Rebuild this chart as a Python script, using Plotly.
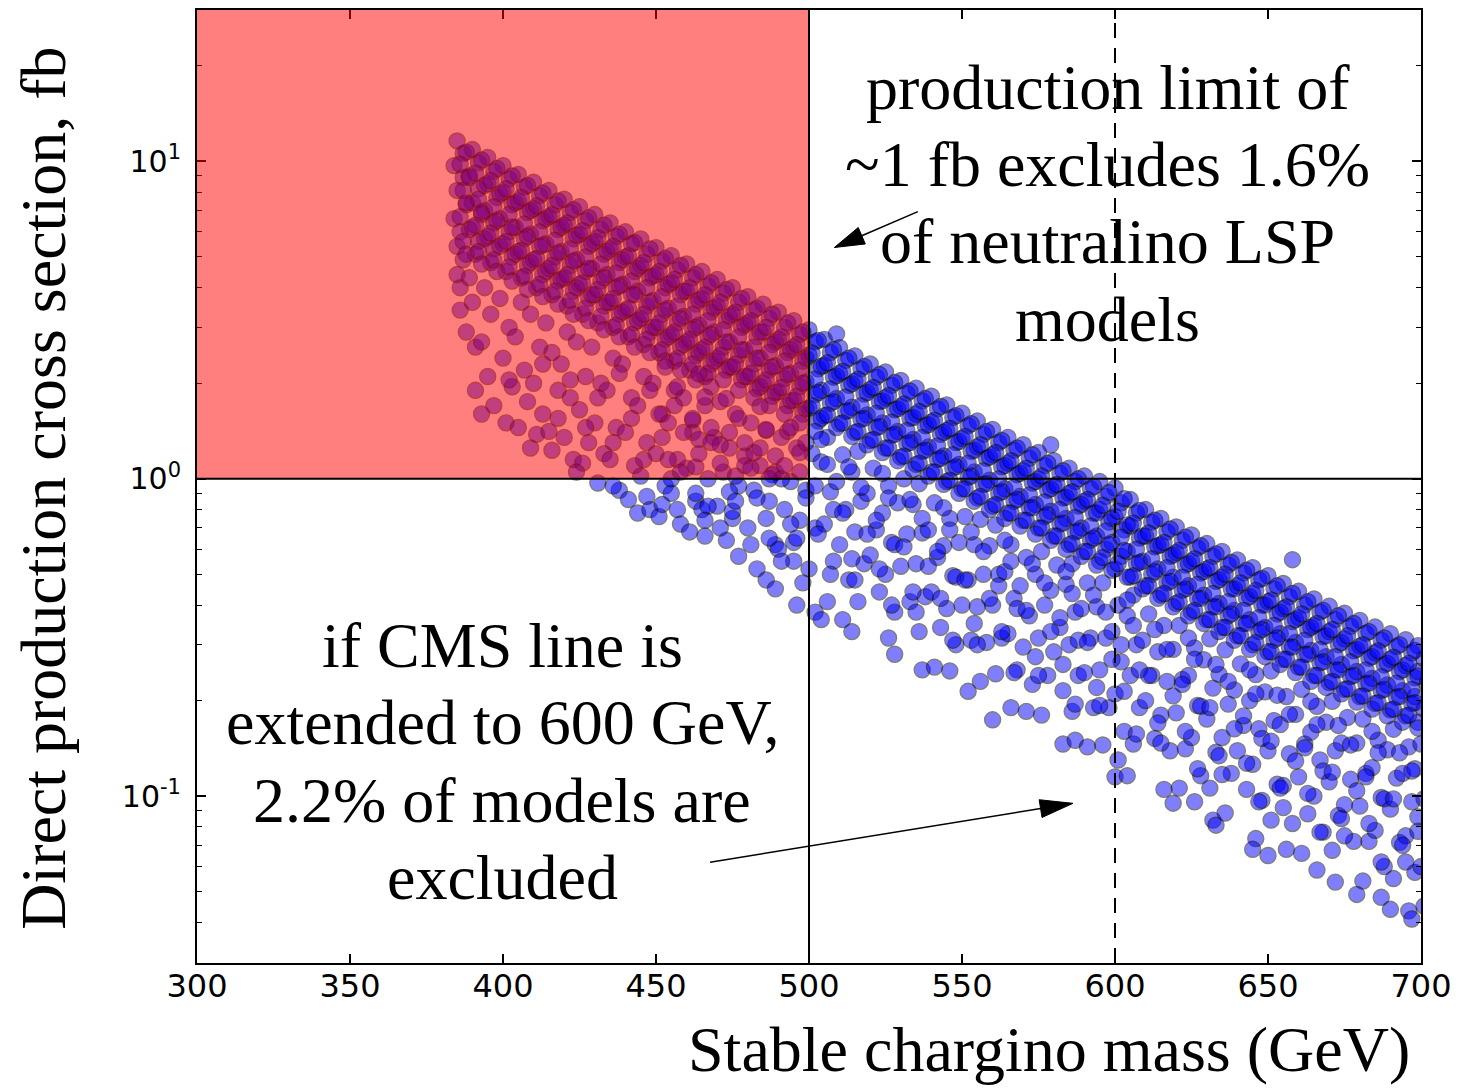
import math
import plotly.graph_objects as go

# Stable chargino mass (GeV) and direct production cross section (fb) for the
# neutralino-LSP model scan, split into mass bands.
mass_a = [
    385, 387, 384, 387, 385, 388, 384, 386, 385, 387, 385, 386, 386, 388,
    390, 392, 389, 392, 390, 393, 390, 392, 391, 389, 390, 391, 391, 393,
    395, 397, 395, 398, 394, 397, 395, 397, 396, 394, 396, 393, 395, 397,
    400, 402, 400, 403, 399, 402, 400, 403, 401, 399, 402, 400, 403, 401,
    405, 407, 405, 408, 404, 407, 405, 408, 406, 406, 404, 407, 405, 409,
    410, 412, 410, 413, 409, 412, 410, 413, 411, 409, 412, 410, 413, 411,
    415, 417, 415, 418, 414, 417, 415, 418, 416, 414, 416, 418, 415, 416,
    420, 422, 420, 423, 419, 422, 420, 423, 421, 421, 419, 422, 420, 423,
    425, 427, 425, 428, 424, 427, 425, 428, 426, 424, 427, 425, 428, 426, 424,
    430, 432, 430, 433, 429, 432, 430, 433, 431, 429, 432, 430, 433, 431,
    435, 437, 435, 438, 434, 437, 435, 438, 436, 436, 434, 437, 435, 438,
    440, 442, 440, 443, 439, 442, 440, 443, 441, 439, 442, 440, 443, 441, 444,
    445, 447, 445, 448, 444, 447, 445, 448, 446, 446, 444, 447, 445, 448,
]
xsec_a = [
    11.6, 10.6, 9.7, 8.9, 8.1, 7.3, 6.6, 6.0, 5.4, 4.9, 4.4, 4.0, 3.4, 2.9,
    10.9, 9.9, 9.0, 8.2, 7.4, 6.8, 6.2, 5.6, 5.1, 4.3, 3.6, 2.6, 1.9, 1.6,
    10.3, 9.3, 8.5, 7.7, 7.0, 6.4, 5.8, 5.3, 4.8, 4.0, 3.3, 2.7, 2.1, 1.7,
    9.7, 8.8, 8.0, 7.3, 6.6, 6.0, 5.5, 5.0, 4.5, 3.7, 3.0, 2.4, 1.95, 1.5,
    9.1, 8.3, 7.5, 6.9, 6.2, 5.7, 5.2, 4.7, 4.3, 3.6, 2.8, 2.2, 1.45, 1.25,
    8.6, 7.8, 7.1, 6.5, 5.9, 5.4, 4.9, 4.4, 4.0, 3.3, 2.6, 2.0, 1.6, 1.38,
    8.1, 7.3, 6.7, 6.1, 5.5, 5.0, 4.6, 4.2, 3.8, 3.1, 2.5, 1.9, 1.41, 1.23,
    7.6, 6.9, 6.3, 5.7, 5.2, 4.7, 4.3, 3.9, 3.5, 2.9, 2.3, 1.8, 1.35, 1.15,
    7.2, 6.5, 5.9, 5.4, 4.9, 4.5, 4.1, 3.7, 3.3, 2.7, 2.1, 1.65, 1.3, 1.12, 1.05,
    6.8, 6.1, 5.6, 5.1, 4.6, 4.2, 3.8, 3.5, 3.1, 2.6, 2.0, 1.5, 1.2, 0.97,
    6.4, 5.8, 5.3, 4.8, 4.4, 4.0, 3.6, 3.3, 3.0, 2.4, 1.9, 1.45, 1.15, 0.92,
    6.0, 5.5, 5.0, 4.5, 4.1, 3.8, 3.4, 3.1, 2.8, 2.3, 1.8, 1.4, 1.1, 0.86, 0.78,
    5.7, 5.1, 4.7, 4.3, 3.9, 3.5, 3.2, 2.9, 2.65, 2.1, 1.7, 1.3, 1.02, 0.80,
]

mass_b = [
    450, 452, 450, 453, 449, 452, 450, 453, 451, 449, 452, 450, 453, 451,
    455, 457, 455, 458, 454, 457, 455, 458, 456, 456, 454, 457, 455, 458,
    460, 462, 460, 463, 459, 462, 460, 463, 461, 459, 462, 460, 463, 461,
    465, 467, 465, 468, 464, 467, 465, 468, 466, 466, 464, 467, 465, 466,
    470, 472, 470, 473, 469, 472, 470, 473, 471, 469, 472, 470, 473,
    475, 477, 475, 478, 474, 477, 475, 478, 476, 474, 477, 475, 477,
    480, 482, 480, 483, 479, 482, 480, 483, 481, 479, 482, 480, 483,
    485, 487, 485, 488, 484, 487, 485, 488, 486, 484, 487, 489, 486,
    490, 492, 490, 493, 489, 492, 490, 493, 491, 489, 492, 490, 489,
    495, 497, 495, 498, 494, 497, 495, 498, 496, 494, 497, 495, 496,
    500, 502, 500, 503, 499, 502, 500, 503, 501, 499, 502, 500, 502,
]
xsec_b = [
    5.35, 4.85, 4.4, 4.0, 3.65, 3.3, 3.0, 2.75, 2.5, 2.0, 1.6, 1.2, 0.95, 0.76,
    5.05, 4.55, 4.15, 3.8, 3.45, 3.1, 2.85, 2.6, 2.35, 1.9, 1.5, 1.15, 0.9, 0.72,
    4.75, 4.3, 3.9, 3.55, 3.25, 2.95, 2.7, 2.45, 2.2, 1.8, 1.4, 1.08, 0.85, 0.68,
    4.5, 4.05, 3.7, 3.35, 3.05, 2.8, 2.55, 2.3, 2.1, 1.7, 1.33, 1.0, 0.8, 0.66,
    4.25, 3.85, 3.5, 3.15, 2.9, 2.6, 2.4, 2.2, 1.75, 1.35, 1.05, 0.82, 0.64,
    4.0, 3.6, 3.3, 3.0, 2.7, 2.45, 2.25, 2.05, 1.6, 1.25, 0.95, 0.75, 0.57,
    3.75, 3.4, 3.1, 2.8, 2.55, 2.3, 2.1, 1.92, 1.5, 1.18, 0.92, 0.7, 0.52,
    3.55, 3.2, 2.9, 2.65, 2.4, 2.2, 2.0, 1.82, 1.42, 1.1, 0.85, 0.62, 0.48,
    3.35, 3.0, 2.75, 2.5, 2.27, 2.07, 1.88, 1.7, 1.35, 1.05, 0.8, 0.6, 0.45,
    3.15, 2.85, 2.6, 2.35, 2.15, 1.95, 1.77, 1.6, 1.25, 0.98, 0.74, 0.55, 0.40,
    2.95, 2.7, 2.45, 2.22, 2.02, 1.84, 1.67, 1.52, 1.2, 0.92, 0.7, 0.52, 0.38,
]

mass_c = [
    505, 507, 505, 508, 504, 507, 505, 506, 504, 507, 505, 508, 506, 504, 509,
    510, 512, 510, 513, 509, 512, 510, 511, 509, 512, 510, 513, 511,
    515, 517, 515, 518, 514, 517, 515, 516, 514, 517, 515, 518, 516, 514,
    520, 522, 520, 523, 519, 522, 520, 521, 519, 522, 520, 523,
    525, 527, 525, 528, 524, 527, 525, 526, 524, 527, 525, 528, 526,
    530, 532, 530, 533, 529, 532, 530, 531, 529, 532, 530, 533, 528,
    535, 537, 535, 538, 534, 537, 535, 536, 534, 537, 535, 538, 536, 537,
    540, 542, 540, 543, 539, 542, 540, 541, 539, 542, 540, 543, 541,
    545, 547, 545, 548, 544, 547, 545, 546, 544, 547, 545, 548, 546,
    550, 552, 550, 553, 549, 552, 550, 551, 549, 552, 550, 553, 552,
]
xsec_c = [
    2.75, 2.50, 2.28, 2.09, 1.90, 1.73, 1.58, 1.35, 1.13, 0.91, 0.72, 0.55, 0.41, 0.36, 2.86,
    2.59, 2.36, 2.15, 1.97, 1.79, 1.63, 1.49, 1.19, 0.98, 0.80, 0.62, 0.48, 0.36,
    2.44, 2.22, 2.03, 1.85, 1.68, 1.54, 1.40, 1.22, 1.05, 0.85, 0.68, 0.54, 0.41, 0.33,
    2.30, 2.09, 1.91, 1.75, 1.59, 1.45, 1.32, 1.08, 0.90, 0.69, 0.575, 0.44,
    2.17, 1.97, 1.80, 1.65, 1.50, 1.37, 1.25, 0.95, 0.78, 0.63, 0.50, 0.38, 0.315,
    2.04, 1.86, 1.69, 1.55, 1.41, 1.29, 1.17, 1.00, 0.84, 0.67, 0.53, 0.41, 0.28,
    1.93, 1.76, 1.60, 1.47, 1.33, 1.22, 1.11, 0.965, 0.83, 0.675, 0.54, 0.425, 0.33, 0.25,
    1.82, 1.66, 1.51, 1.38, 1.26, 1.15, 1.05, 0.84, 0.69, 0.565, 0.44, 0.34, 0.255,
    1.71, 1.56, 1.42, 1.30, 1.18, 1.08, 0.98, 0.75, 0.615, 0.495, 0.39, 0.30, 0.248,
    1.61, 1.47, 1.34, 1.22, 1.11, 1.01, 0.93, 0.76, 0.63, 0.48, 0.40, 0.31, 0.214,
]

mass_d = [
    555, 557, 555, 558, 554, 557, 555, 556, 554, 557, 555, 558, 556,
    560, 562, 560, 563, 559, 562, 560, 561, 559, 562, 560, 563, 561, 560,
    565, 567, 565, 568, 564, 567, 565, 566, 564, 567, 565, 568, 566,
    570, 572, 570, 573, 569, 572, 570, 571, 569, 572, 570, 573, 571,
    575, 577, 575, 578, 574, 577, 575, 576, 574, 577, 575, 578, 576, 579,
    580, 582, 580, 583, 579, 582, 580, 581, 579, 582, 580, 583, 583,
    585, 587, 585, 588, 584, 587, 585, 586, 584, 587, 585, 588, 586, 587,
    590, 592, 590, 593, 589, 592, 590, 591, 589, 592, 590, 593, 591,
    595, 597, 595, 598, 594, 597, 595, 596, 594, 597, 595, 598, 596,
    600, 602, 600, 603, 599, 602, 600, 601, 599, 602, 600, 603, 601, 600,
]
xsec_d = [
    1.52, 1.38, 1.26, 1.16, 1.05, 0.96, 0.87, 0.745, 0.62, 0.50, 0.395, 0.305, 0.23,
    1.43, 1.30, 1.19, 1.09, 0.99, 0.90, 0.82, 0.715, 0.615, 0.50, 0.40, 0.315, 0.243, 0.174,
    1.35, 1.23, 1.12, 1.03, 0.93, 0.85, 0.78, 0.62, 0.51, 0.42, 0.325, 0.25, 0.19,
    1.28, 1.16, 1.06, 0.97, 0.88, 0.81, 0.74, 0.565, 0.46, 0.37, 0.295, 0.225, 0.185,
    1.21, 1.10, 1.00, 0.92, 0.83, 0.76, 0.70, 0.59, 0.50, 0.40, 0.315, 0.24, 0.18, 1.28,
    1.14, 1.04, 0.95, 0.87, 0.79, 0.72, 0.66, 0.535, 0.445, 0.34, 0.285, 0.215, 0.146,
    1.08, 0.98, 0.90, 0.82, 0.75, 0.68, 0.62, 0.54, 0.465, 0.38, 0.30, 0.24, 0.185, 0.15,
    1.02, 0.93, 0.85, 0.78, 0.70, 0.64, 0.59, 0.47, 0.39, 0.315, 0.245, 0.19, 0.143,
    0.98, 0.88, 0.80, 0.73, 0.66, 0.60, 0.55, 0.47, 0.395, 0.315, 0.25, 0.19, 0.145,
    0.935, 0.84, 0.76, 0.69, 0.63, 0.57, 0.52, 0.40, 0.33, 0.265, 0.21, 0.16, 0.13, 0.115,
]

mass_e = [
    605, 607, 605, 608, 604, 607, 605, 606, 604, 607, 605, 608, 606, 604,
    610, 612, 610, 613, 609, 612, 610, 611, 609, 612, 610, 613,
    615, 617, 615, 618, 614, 617, 615, 616, 614, 617, 615, 618, 616,
    620, 622, 620, 623, 619, 622, 620, 621, 619, 622, 620, 623, 621, 619,
    625, 627, 625, 628, 624, 627, 625, 626, 624, 627, 625, 628, 626,
    630, 632, 630, 633, 629, 632, 630, 631, 629, 632, 630, 633, 631, 632,
    635, 637, 635, 638, 634, 637, 635, 636, 634, 637, 635, 638, 636, 633,
    640, 642, 640, 643, 639, 642, 640, 641, 639, 642, 640, 643,
    645, 647, 645, 648, 644, 647, 645, 646, 644, 647, 645, 648, 646, 645,
    650, 652, 650, 653, 649, 652, 650, 651, 649, 652, 650, 653, 651, 650,
]
xsec_e = [
    0.86, 0.78, 0.71, 0.65, 0.59, 0.54, 0.49, 0.43, 0.37, 0.30, 0.24, 0.19, 0.146, 0.116,
    0.80, 0.73, 0.66, 0.61, 0.55, 0.50, 0.46, 0.375, 0.31, 0.24, 0.20, 0.152,
    0.75, 0.68, 0.62, 0.57, 0.52, 0.47, 0.43, 0.345, 0.285, 0.23, 0.18, 0.139, 0.105,
    0.705, 0.64, 0.585, 0.535, 0.49, 0.445, 0.405, 0.345, 0.29, 0.233, 0.183, 0.141, 0.106, 0.095,
    0.665, 0.605, 0.55, 0.505, 0.46, 0.42, 0.38, 0.293, 0.24, 0.193, 0.153, 0.116, 0.096,
    0.625, 0.57, 0.52, 0.475, 0.43, 0.395, 0.36, 0.313, 0.269, 0.219, 0.175, 0.1375, 0.106, 0.084,
    0.59, 0.535, 0.49, 0.45, 0.405, 0.37, 0.34, 0.289, 0.242, 0.195, 0.153, 0.118, 0.0885, 0.081,
    0.555, 0.505, 0.46, 0.42, 0.385, 0.35, 0.32, 0.261, 0.216, 0.167, 0.139, 0.105,
    0.525, 0.48, 0.435, 0.40, 0.36, 0.33, 0.30, 0.2415, 0.2, 0.163, 0.126, 0.097, 0.0735, 0.068,
    0.495, 0.45, 0.41, 0.375, 0.34, 0.31, 0.285, 0.248, 0.213, 0.173, 0.139, 0.109, 0.084, 0.065,
]

mass_f = [
    655, 657, 655, 658, 654, 657, 655, 656, 654, 657, 655, 658, 656, 658,
    660, 662, 660, 663, 659, 662, 660, 661, 659, 662, 660, 663, 661,
    665, 667, 665, 668, 664, 667, 665, 666, 664, 667, 665, 668, 666,
    670, 672, 670, 673, 669, 672, 670, 671, 669, 672, 670, 673, 671, 672,
    675, 677, 675, 678, 674, 677, 675, 676, 674, 677, 675, 678,
    680, 682, 680, 683, 679, 682, 680, 681, 679, 682, 680, 683, 681, 679,
    685, 687, 685, 688, 684, 687, 685, 686, 684, 687, 685, 688, 687,
    690, 692, 690, 693, 689, 692, 690, 691, 689, 692, 690, 693, 691, 690,
    695, 697, 695, 698, 694, 697, 695, 696, 694, 697, 695, 698, 696,
    699, 701, 699, 702, 698, 701, 699, 700, 698, 701, 699, 700, 701, 697,
]
xsec_f = [
    0.468, 0.425, 0.39, 0.355, 0.325, 0.295, 0.27, 0.206, 0.168, 0.136, 0.108, 0.082, 0.068, 0.556,
    0.442, 0.40, 0.365, 0.335, 0.305, 0.28, 0.255, 0.217, 0.181, 0.146, 0.115, 0.088, 0.066,
    0.418, 0.38, 0.345, 0.318, 0.288, 0.263, 0.24, 0.192, 0.159, 0.13, 0.10, 0.077, 0.0585,
    0.397, 0.36, 0.33, 0.30, 0.275, 0.25, 0.228, 0.199, 0.171, 0.139, 0.111, 0.087, 0.0675, 0.0536,
    0.377, 0.343, 0.313, 0.287, 0.26, 0.238, 0.217, 0.177, 0.147, 0.113, 0.094, 0.072,
    0.358, 0.326, 0.297, 0.272, 0.247, 0.226, 0.206, 0.175, 0.147, 0.118, 0.093, 0.072, 0.054, 0.049,
    0.341, 0.31, 0.283, 0.259, 0.235, 0.215, 0.196, 0.15, 0.123, 0.099, 0.078, 0.06, 0.048,
    0.325, 0.296, 0.27, 0.247, 0.224, 0.205, 0.187, 0.1625, 0.14, 0.114, 0.091, 0.0715, 0.055, 0.044,
    0.311, 0.283, 0.258, 0.236, 0.215, 0.196, 0.179, 0.143, 0.118, 0.096, 0.075, 0.0575, 0.0435,
    0.298, 0.271, 0.247, 0.226, 0.206, 0.188, 0.171, 0.146, 0.122, 0.098, 0.0775, 0.06, 0.045, 0.041,
]

# Models lying between the columns above in the densely populated upper band
mass_g1 = [
    388, 386, 389, 387, 388, 386, 389, 387, 388,
    393, 391, 394, 392, 393, 391, 394, 392, 393,
    398, 396, 399, 397, 398, 396, 399, 397, 398,
    403, 401, 404, 402, 403, 401, 404, 402, 403,
    408, 406, 409, 407, 408, 406, 409, 407, 408,
    413, 411, 414, 412, 413, 411, 414, 412, 413,
    418, 416, 419, 417, 418, 416, 419, 417, 418,
    423, 421, 424, 422, 423, 421, 424, 422, 423,
    428, 426, 429, 427, 428, 426, 429, 427, 428,
    433, 431, 434, 432, 433, 431, 434, 432, 433,
    438, 436, 439, 437, 438, 436, 439, 437, 438,
    443, 441, 444, 442, 443, 441, 444, 442, 443,
    448, 446, 449, 447, 448, 446, 449, 447, 448,
    453, 451, 454, 452, 453, 451, 454, 452, 453,
    458, 456, 459, 457, 458, 456, 459, 457, 458,
    463, 461, 464, 462, 463, 461, 464, 462, 463,
    468, 466, 469, 467, 468, 466, 469, 467, 468,
    473, 471, 474, 472, 473, 471, 474, 472,
    478, 476, 479, 477, 478, 476, 479, 477,
    483, 481, 484, 482, 483, 481, 484, 482,
    488, 486, 489, 487, 488, 486, 489, 487,
    493, 491, 494, 492, 493, 491, 494, 492,
    498, 496, 499, 497, 498, 496, 499, 497,
    503, 501, 504, 502, 503, 501, 504, 502,
]
xsec_g1 = [
    10.7, 9.8, 8.9, 8.1, 7.4, 6.7, 6.1, 5.6, 5.1,
    10.1, 9.2, 8.4, 7.6, 6.9, 6.3, 5.7, 5.2, 4.75,
    9.5, 8.7, 7.9, 7.2, 6.5, 5.95, 5.4, 4.9, 4.5,
    9.0, 8.2, 7.4, 6.8, 6.2, 5.6, 5.1, 4.65, 4.2,
    8.4, 7.7, 7.0, 6.35, 5.8, 5.25, 4.8, 4.35, 3.95,
    7.95, 7.25, 6.6, 6.0, 5.45, 4.95, 4.5, 4.1, 3.75,
    7.5, 6.8, 6.2, 5.65, 5.15, 4.7, 4.25, 3.9, 3.55,
    7.05, 6.4, 5.85, 5.3, 4.85, 4.4, 4.0, 3.65, 3.3,
    6.65, 6.05, 5.5, 5.0, 4.6, 4.15, 3.8, 3.45, 3.15,
    6.3, 5.75, 5.2, 4.75, 4.3, 3.95, 3.6, 3.25, 2.95,
    5.9, 5.4, 4.9, 4.45, 4.05, 3.7, 3.35, 3.05, 2.8,
    5.55, 5.05, 4.6, 4.2, 3.8, 3.45, 3.15, 2.85, 2.6,
    5.3, 4.8, 4.35, 4.0, 3.6, 3.3, 3.0, 2.75, 2.5,
    4.95, 4.5, 4.1, 3.75, 3.4, 3.1, 2.8, 2.55, 2.35,
    4.7, 4.25, 3.9, 3.5, 3.2, 2.9, 2.65, 2.4, 2.2,
    4.4, 4.0, 3.65, 3.3, 3.0, 2.75, 2.5, 2.3, 2.05,
    4.15, 3.8, 3.45, 3.15, 2.85, 2.6, 2.35, 2.15, 1.95,
    3.95, 3.6, 3.25, 2.95, 2.7, 2.45, 2.25, 2.05,
    3.7, 3.35, 3.05, 2.8, 2.55, 2.3, 2.1, 1.9,
    3.45, 3.15, 2.9, 2.6, 2.4, 2.15, 1.95, 1.8,
    3.3, 3.0, 2.7, 2.5, 2.25, 2.05, 1.87, 1.7,
    3.1, 2.8, 2.55, 2.35, 2.13, 1.94, 1.76, 1.6,
    2.9, 2.65, 2.4, 2.2, 2.0, 1.82, 1.66, 1.5,
    2.73, 2.49, 2.26, 2.06, 1.87, 1.7, 1.55, 1.41,
]

mass_g2 = [
    508, 506, 509, 507, 508, 506, 509,
    513, 511, 514, 512, 513, 511, 514,
    518, 516, 519, 517, 518, 516, 519,
    523, 521, 524, 522, 523, 521, 524,
    528, 526, 529, 527, 528, 526, 529,
    533, 531, 534, 532, 533, 531, 534,
    538, 536, 539, 537, 538, 536, 539,
    543, 541, 544, 542, 543, 541, 544,
    548, 546, 549, 547, 548, 546, 549,
    553, 551, 554, 552, 553, 551, 554,
    558, 556, 559, 557, 558, 556, 559,
    563, 561, 564, 562, 563, 561, 564,
    568, 566, 569, 567, 568, 566, 569,
    573, 571, 574, 572, 573, 571, 574,
    578, 576, 579, 577, 578, 576, 579,
    583, 581, 584, 582, 583, 581, 584,
    588, 586, 589, 587, 588, 586, 589,
    593, 591, 594, 592, 593, 591, 594,
    598, 596, 599, 597, 598, 596, 599,
    603, 601, 604, 602, 603, 601, 604,
    608, 606, 609, 607, 608, 606, 609,
    613, 611, 614, 612, 613, 611, 614,
    618, 616, 619, 617, 618, 616, 619,
    623, 621, 624, 622, 623, 621, 624,
    628, 626, 629, 627, 628, 626, 629,
    633, 631, 634, 632, 633, 631, 634,
    638, 636, 639, 637, 638, 636, 639,
    643, 641, 644, 642, 643, 641, 644,
    648, 646, 649, 647, 648, 646, 649,
    653, 651, 654, 652, 653, 651, 654,
    658, 656, 659, 657, 658, 656, 659,
    663, 661, 664, 662, 663, 661, 664,
    668, 666, 669, 667, 668, 666, 669,
    673, 671, 674, 672, 673, 671, 674,
    678, 676, 679, 677, 678, 676, 679,
    683, 681, 684, 682, 683, 681, 684,
    688, 686, 689, 687, 688, 686, 689,
    693, 691, 694, 692, 693, 691, 694,
    698, 696, 699, 697, 698, 696, 699,
]
xsec_g2 = [
    2.55, 2.32, 2.11, 1.92, 1.75, 1.59, 1.45,
    2.40, 2.18, 1.99, 1.81, 1.64, 1.50, 1.36,
    2.26, 2.06, 1.87, 1.70, 1.55, 1.41, 1.28,
    2.13, 1.94, 1.76, 1.61, 1.46, 1.33, 1.21,
    2.01, 1.83, 1.66, 1.51, 1.38, 1.25, 1.14,
    1.89, 1.72, 1.56, 1.42, 1.30, 1.18, 1.07,
    1.79, 1.63, 1.48, 1.35, 1.23, 1.12, 1.02,
    1.69, 1.53, 1.40, 1.27, 1.16, 1.05, 0.96,
    1.58, 1.44, 1.31, 1.19, 1.09, 0.99, 0.90,
    1.49, 1.36, 1.23, 1.12, 1.02, 0.93, 0.85,
    1.41, 1.28, 1.17, 1.06, 0.965, 0.88, 0.80,
    1.32, 1.21, 1.10, 1.00, 0.91, 0.83, 0.75,
    1.25, 1.14, 1.04, 0.94, 0.86, 0.78, 0.71,
    1.19, 1.08, 0.98, 0.89, 0.81, 0.74, 0.67,
    1.12, 1.02, 0.93, 0.845, 0.77, 0.70, 0.64,
    1.06, 0.96, 0.875, 0.80, 0.725, 0.66, 0.60,
    1.00, 0.91, 0.83, 0.755, 0.685, 0.625, 0.57,
    0.945, 0.86, 0.78, 0.71, 0.65, 0.59, 0.535,
    0.905, 0.825, 0.75, 0.685, 0.62, 0.565, 0.515,
    0.865, 0.79, 0.715, 0.655, 0.595, 0.54, 0.49,
    0.795, 0.725, 0.66, 0.60, 0.545, 0.495, 0.45,
    0.74, 0.675, 0.615, 0.56, 0.51, 0.46, 0.42,
    0.695, 0.63, 0.575, 0.525, 0.475, 0.435, 0.395,
    0.655, 0.595, 0.54, 0.49, 0.45, 0.41, 0.37,
    0.615, 0.56, 0.51, 0.465, 0.42, 0.385, 0.35,
    0.58, 0.525, 0.48, 0.435, 0.395, 0.36, 0.33,
    0.545, 0.50, 0.45, 0.41, 0.375, 0.34, 0.31,
    0.515, 0.47, 0.425, 0.385, 0.35, 0.32, 0.29,
    0.485, 0.445, 0.40, 0.365, 0.335, 0.305, 0.275,
    0.46, 0.415, 0.38, 0.345, 0.315, 0.285, 0.26,
    0.435, 0.395, 0.36, 0.325, 0.295, 0.27, 0.245,
    0.41, 0.375, 0.34, 0.31, 0.28, 0.255, 0.23,
    0.385, 0.35, 0.32, 0.29, 0.265, 0.24, 0.22,
    0.37, 0.335, 0.305, 0.275, 0.25, 0.23, 0.21,
    0.35, 0.32, 0.29, 0.265, 0.24, 0.218, 0.198,
    0.33, 0.30, 0.275, 0.25, 0.227, 0.207, 0.188,
    0.315, 0.287, 0.262, 0.238, 0.217, 0.197, 0.179,
    0.30, 0.274, 0.25, 0.227, 0.206, 0.188, 0.171,
    0.288, 0.262, 0.239, 0.217, 0.197, 0.18, 0.164,
]

# Further models in the sparser low-cross-section tail
mass_h = [
    453, 451, 454, 457, 459, 455, 464, 462, 463, 466, 468, 467,
    473, 471, 474, 477, 479, 475, 484, 482, 483, 486, 488, 487,
    493, 491, 494, 497, 499, 495, 504, 502, 503, 506, 508, 507,
    513, 511, 514, 517, 519, 515, 524, 522, 523, 526, 528, 527,
    533, 531, 534, 537, 539, 535, 544, 542, 543, 546, 548, 547,
    553, 551, 554, 557, 559, 555, 564, 562, 563, 566, 568, 567,
    573, 571, 574, 577, 579, 575, 584, 582, 583, 586, 588, 587,
    593, 591, 594, 597, 599, 595, 604, 602, 603, 606, 608, 607,
    613, 611, 614, 617, 619, 615, 624, 622, 623, 626, 628, 627,
    633, 631, 634, 637, 639, 635, 644, 642, 643, 646, 648, 647,
    653, 651, 654, 657, 659, 655, 664, 662, 663, 666, 668, 667,
    673, 671, 674, 677, 679, 675, 684, 682, 683, 686, 688, 687,
    693, 691, 694, 697, 699, 695,
]
xsec_h = [
    2.25, 1.6, 1.15, 1.95, 1.4, 1.0, 2.14, 1.53, 1.09, 1.81, 1.3, 0.82,
    1.79, 1.28, 0.91, 1.55, 1.1, 0.79, 1.69, 1.21, 0.87, 1.43, 1.03, 0.65,
    1.41, 1.0, 0.72, 1.21, 0.87, 0.63, 1.33, 0.95, 0.67, 1.11, 0.8, 0.5,
    1.09, 0.78, 0.56, 0.94, 0.67, 0.48, 1.04, 0.74, 0.52, 0.87, 0.62, 0.4,
    0.86, 0.61, 0.44, 0.75, 0.53, 0.38, 0.81, 0.59, 0.42, 0.69, 0.49, 0.31,
    0.68, 0.48, 0.35, 0.59, 0.42, 0.30, 0.64, 0.46, 0.33, 0.55, 0.39, 0.245,
    0.54, 0.385, 0.275, 0.47, 0.33, 0.24, 0.51, 0.365, 0.26, 0.435, 0.31, 0.195,
    0.43, 0.305, 0.22, 0.38, 0.27, 0.193, 0.415, 0.3, 0.214, 0.345, 0.25, 0.157,
    0.335, 0.24, 0.17, 0.29, 0.207, 0.147, 0.315, 0.225, 0.16, 0.27, 0.192, 0.122,
    0.26, 0.19, 0.134, 0.23, 0.163, 0.117, 0.25, 0.179, 0.127, 0.21, 0.152, 0.096,
    0.208, 0.149, 0.106, 0.181, 0.129, 0.092, 0.199, 0.142, 0.102, 0.168, 0.12, 0.077,
    0.167, 0.119, 0.085, 0.145, 0.104, 0.075, 0.16, 0.115, 0.082, 0.137, 0.098, 0.062,
    0.137, 0.098, 0.07, 0.12, 0.086, 0.062,
]

# Models just above and below the 1 fb limit at lower masses
mass_k = [
    402, 408, 413, 418, 422, 427, 431, 436, 438, 442, 446, 448, 452, 456, 458,
    462, 464, 468, 471, 474, 476, 479, 481, 484, 487, 489, 492, 494, 497, 499,
    436, 447, 452, 457, 463, 466, 471, 476, 481, 486, 491, 496, 498,
]
xsec_k = [
    2.05, 1.75, 2.3, 1.55, 2.05, 1.45, 1.8, 1.3, 2.15, 1.55, 1.15, 1.9, 1.35, 1.7, 1.05,
    1.55, 1.2, 1.45, 1.12, 1.4, 1.02, 1.3, 1.08, 1.25, 1.0, 1.18, 1.1, 1.45, 1.05, 1.3,
    0.95, 0.88, 0.83, 0.8, 0.9, 0.74, 0.7, 0.85, 0.62, 0.75, 0.55, 0.65, 0.47,
]

# Axis ticks
x_ticks = [300, 350, 400, 450, 500, 550, 600, 650, 700]
y_ticks = [0.1, 1, 10]
y_tick_text = ["10<sup>-1</sup>", "10<sup>0</sup>", "10<sup>1</sup>"]
y_minor = [0.04, 0.05, 0.06, 0.07, 0.08, 0.09,
           0.2, 0.3, 0.4, 0.5, 0.6, 0.7, 0.8, 0.9,
           2, 3, 4, 5, 6, 7, 8, 9, 20]

# Limits
cms_mass_limit = 500      # GeV, current stable chargino reach
extended_mass_limit = 600 # GeV, extended line
xsec_limit = 1.0          # fb, production limit
xsec_top = 30.0           # fb, top of the y axis

segments = [(mass_a, xsec_a), (mass_b, xsec_b), (mass_c, xsec_c),
            (mass_d, xsec_d), (mass_e, xsec_e), (mass_f, xsec_f),
            (mass_g1, xsec_g1), (mass_g2, xsec_g2), (mass_h, xsec_h),
            (mass_k, xsec_k)]
mass, xsec = [], []
for m, s in segments:
    assert len(m) == len(s), (len(m), len(s))
    mass += m
    xsec += s

# Page geometry (pixels)
W, H = 1460, 1090
M_L, M_R, M_T, M_B = 197, 32, 8, 127
PLOT_W = W - M_L - M_R
PLOT_H = H - M_T - M_B
X_RANGE = [300, 700]
Y_RANGE = [math.log10(0.0298), math.log10(xsec_top)]


def paper(px, py):
    return (px - M_L) / PLOT_W, (M_T + PLOT_H - py) / PLOT_H


SERIF = "Liberation Serif, Times New Roman, serif"
SANS = "DejaVu Sans, Arial, sans-serif"

fig = go.Figure()
fig.add_trace(go.Scatter(
    x=mass, y=xsec, mode="markers",
    marker=dict(size=16, color="#0000ff", opacity=0.5,
                line=dict(color="black", width=1.4)),
    hoverinfo="skip", showlegend=False,
))

shapes = [
    # excluded region: above the production limit, below the CMS mass reach
    dict(type="rect", xref="x", yref="y", x0=X_RANGE[0], x1=cms_mass_limit,
         y0=xsec_limit, y1=xsec_top,
         fillcolor="rgba(255,0,0,0.5)", line=dict(width=0), layer="above"),
    dict(type="line", xref="x", yref="paper", x0=cms_mass_limit, x1=cms_mass_limit,
         y0=0, y1=1, line=dict(color="black", width=2), layer="above"),
    dict(type="line", xref="paper", yref="y", x0=0, x1=1,
         y0=xsec_limit, y1=xsec_limit,
         line=dict(color="black", width=2), layer="above"),
    dict(type="line", xref="x", yref="paper", x0=extended_mass_limit,
         x1=extended_mass_limit, y0=0, y1=1,
         line=dict(color="black", width=2, dash="15px,10px"), layer="above"),
]


def arrow(tail, tip, head_len, head_half):
    dx, dy = tip[0] - tail[0], tip[1] - tail[1]
    n = math.hypot(dx, dy)
    ux, uy = dx / n, dy / n
    bx, by = tip[0] - ux * head_len, tip[1] - uy * head_len
    c1 = (bx - uy * head_half, by + ux * head_half)
    c2 = (bx + uy * head_half, by - ux * head_half)
    t0, b0 = paper(*tail), paper(bx, by)
    p_tip, p1, p2 = paper(*tip), paper(*c1), paper(*c2)
    line = dict(type="line", xref="paper", yref="paper",
                x0=t0[0], y0=t0[1], x1=b0[0], y1=b0[1],
                line=dict(color="black", width=1.5), layer="above")
    head = dict(type="path", xref="paper", yref="paper",
                path=f"M {p_tip[0]},{p_tip[1]} L {p1[0]},{p1[1]} L {p2[0]},{p2[1]} Z",
                fillcolor="black", line=dict(color="black", width=1), layer="above")
    return [line, head]


shapes += arrow((922, 210), (838, 246), 30, 9)
shapes += arrow((713, 862), (1078, 803), 33, 9)

annotations = []
note_top = ["production limit of", "~1 fb excludes 1.6%",
            "of neutralino LSP", "models"]
for text, py in zip(note_top, [86, 163, 240, 318]):
    px_, py_ = paper(1113, py)
    annotations.append(dict(text=text, xref="paper", yref="paper", x=px_, y=py_,
                            xanchor="center", yanchor="middle", showarrow=False,
                            font=dict(family=SERIF, size=64, color="black")))

note_bottom = ["if CMS line is", "extended to 600 GeV,",
               "2.2% of models are", "excluded"]
for text, py in zip(note_bottom, [645, 722, 800, 877]):
    px_, py_ = paper(504, py)
    annotations.append(dict(text=text, xref="paper", yref="paper", x=px_, y=py_,
                            xanchor="center", yanchor="middle", showarrow=False,
                            font=dict(family=SERIF, size=64, color="black")))

xt = paper(1054, 1050)
annotations.append(dict(text="Stable chargino mass (GeV)", xref="paper", yref="paper",
                        x=xt[0], y=xt[1], xanchor="center", yanchor="middle",
                        showarrow=False, font=dict(family=SERIF, size=64, color="black")))
yt = paper(43, 487)
annotations.append(dict(text="Direct production cross section, fb", xref="paper",
                        yref="paper", x=yt[0], y=yt[1], xanchor="center",
                        yanchor="middle", textangle=-90, showarrow=False,
                        font=dict(family=SERIF, size=64, color="black")))

fig.update_layout(
    width=W, height=H,
    margin=dict(l=M_L, r=M_R, t=M_T, b=M_B),
    paper_bgcolor="white", plot_bgcolor="white",
    shapes=shapes, annotations=annotations,
    xaxis=dict(range=X_RANGE, tickvals=x_ticks, ticks="inside", ticklen=9,
               tickwidth=1.5, tickcolor="black", showline=True, linecolor="black",
               linewidth=2, mirror="ticks", showgrid=False, zeroline=False,
               ticklabelstandoff=-6,
               tickfont=dict(family=SANS, size=32, color="black")),
    yaxis=dict(type="log", range=Y_RANGE, tickvals=y_ticks, ticktext=y_tick_text,
               ticks="inside", ticklen=9, tickwidth=1.5, tickcolor="black",
               showline=True, linecolor="black", linewidth=2, mirror="ticks",
               showgrid=False, zeroline=False, ticklabelstandoff=8,
               minor=dict(tickvals=y_minor, ticks="inside", ticklen=5,
                          tickwidth=1.2, tickcolor="black", showgrid=False),
               tickfont=dict(family=SANS, size=30, color="black")),
)

fig.write_html("out.html")
